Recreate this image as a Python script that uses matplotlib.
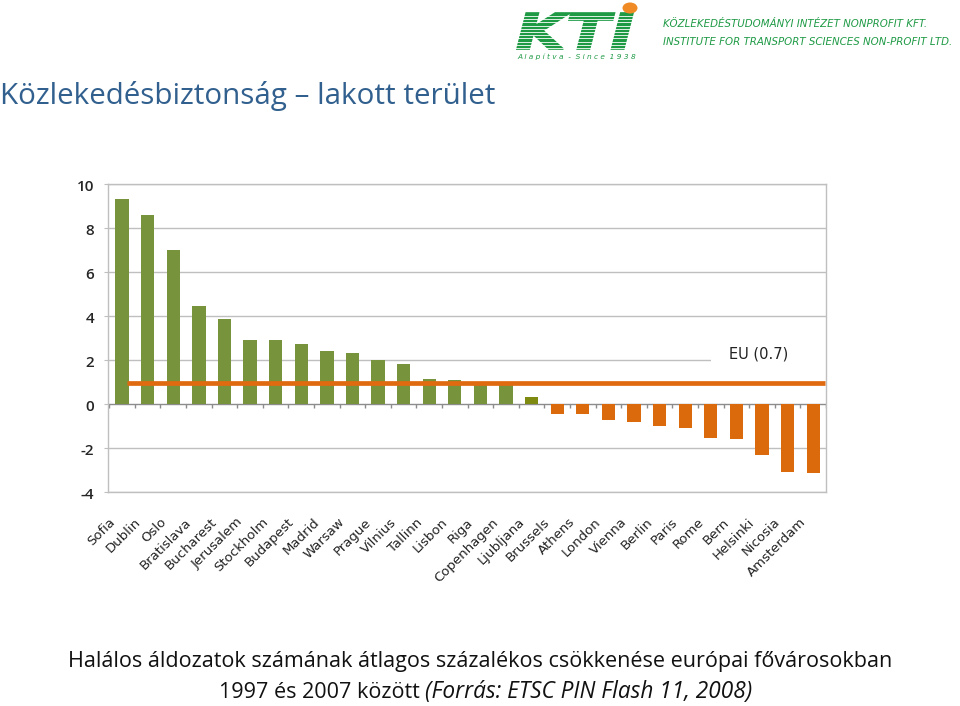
import matplotlib
matplotlib.use("Agg")
import matplotlib.pyplot as plt
import matplotlib.transforms as mtransforms
from matplotlib.patches import Rectangle, Circle, PathPatch
from matplotlib.textpath import TextPath
from matplotlib.font_manager import FontProperties
from matplotlib.lines import Line2D
import numpy as np

cities = ["Sofia", "Dublin", "Oslo", "Bratislava", "Bucharest", "Jerusalem",
          "Stockholm", "Budapest", "Madrid", "Warsaw", "Prague", "Vilnius",
          "Tallinn", "Lisbon", "Riga", "Copenhagen", "Ljubljana", "Brussels",
          "Athens", "London", "Vienna", "Berlin", "Paris", "Rome", "Bern",
          "Helsinki", "Nicosia", "Amsterdam"]
values = [9.3, 8.6, 7.0, 4.45, 3.85, 2.93, 2.93, 2.74, 2.4, 2.31, 2.01, 1.83,
          1.12, 1.08, 0.86, 0.86, 0.33, -0.46, -0.46, -0.71, -0.83, -1.0,
          -1.09, -1.55, -1.59, -2.32, -3.11, -3.15]
eu_value = 0.95
eu_label = "EU (0.7)"
yticks = [-4, -2, 0, 2, 4, 6, 8, 10]

GREEN = "#77933C"
OLIVE = "#7F8A10"
ORANGE = "#DA6A0C"

def bar_color(v):
    if v < 0:
        return ORANGE
    if v < 0.5:
        return OLIVE
    return GREEN

W, H = 960, 706
fig = plt.figure(figsize=(9.6, 7.06), dpi=100)
ax = fig.add_axes([108/W, 1-492/H, (826-108)/W, (492-184)/H])

x = np.arange(len(cities))
ax.bar(x, values, width=0.52, color=[bar_color(v) for v in values], zorder=3)

ax.set_xlim(-0.55, len(cities) - 0.5)
ax.set_ylim(-4, 10)
ax.set_yticks(yticks)
ax.set_yticklabels([str(t) for t in yticks], fontsize=11, color="#262626",
                   family="Open Sans", fontweight="semibold")
ax.tick_params(axis="y", length=3, color="#BFBFBF", pad=7)
for lab in ax.get_yticklabels():
    lab.set_transform(lab.get_transform() +
                      mtransforms.ScaledTranslation(0, -1/72, fig.dpi_scale_trans))
for t in yticks:
    if t != 0:
        ax.axhline(t, color="#BFBFBF", lw=1.0, zorder=1)
ax.axhline(0, color="#8C8C8C", lw=1.0, zorder=2)
# category boundary ticks on the zero line
ax.vlines(np.arange(len(cities) + 1) - 0.5, -0.18, 0, color="#8C8C8C", lw=1.0, zorder=2)

for s in ax.spines.values():
    s.set_color("#BFBFBF")
    s.set_linewidth(1.0)

ax.set_xticks(x)
ax.set_xticklabels(cities, rotation=45, ha="right", va="top",
                   rotation_mode="anchor", fontsize=9.5, color="#222222")
ax.tick_params(axis="x", length=0, pad=17)
offset = mtransforms.ScaledTranslation(-10/72, 0, fig.dpi_scale_trans)
for lab in ax.get_xticklabels():
    lab.set_transform(lab.get_transform() + offset)

# EU line
ax.hlines(eu_value, x[0] + 0.2, x[-1] + 0.45, color="#E06A10", lw=3.4, zorder=4)
# label with white box
ax.add_patch(Rectangle((0.84, 0.40), 0.16, 0.09, transform=ax.transAxes,
                       facecolor="white", edgecolor="none", zorder=2))
ax.text(0.906, 0.448, eu_label, transform=ax.transAxes, ha="center", va="center",
        fontsize=10.5, color="#222222", zorder=5)

# Title
fig.text(0.0, 1-96/H, "Közlekedésbiztonság – lakott terület", fontsize=21.3,
         color="#31608F", family="Open Sans", ha="left", va="center")

# Caption
fig.text(0.5, 1-662/H,
         "Halálos áldozatok számának átlagos százalékos csökkenése európai fővárosokban",
         fontsize=15.5, family="Open Sans", ha="center", va="center", color="#111111")
fig.text(425/W, 1-692/H, "1997 és 2007 között ", fontsize=15.5, family="Open Sans",
         ha="right", va="center", color="#111111")
fig.text(425/W, 1-692/H, "(Forrás: ETSC PIN Flash 11, 2008)", fontsize=16.3,
         family="Open Sans", style="italic", ha="left", va="center", color="#111111")

# Logo
KGREEN = "#1E9A45"
tp = TextPath((0, 0), "KTI", size=1,
              prop=FontProperties(family="DejaVu Sans", weight="bold", style="italic"))
bb = tp.get_extents()
tr = (mtransforms.Affine2D().translate(-bb.x0, -bb.y0)
      .scale(116/W/bb.width, 36/H/bb.height)
      .translate(517/W, 1-49/H)) + fig.transFigure
fig.patches.append(PathPatch(tp, facecolor=KGREEN, edgecolor=KGREEN, lw=1.2, transform=tr))
for yy in np.arange(16, 49, 3.2):
    fig.lines.append(Line2D([510/W, 640/W], [1-yy/H, 1-yy/H], transform=fig.transFigure,
                            color="white", lw=0.6))
fig.patches.append(Circle((630/W, 1-8/H), 7.5/W, transform=fig.transFigure,
                          facecolor="#F08A24", edgecolor="none"))
fig.text(517/W, 1-57/H, "A l a p í t v a  -  S i n c e  1 9 3 8", fontsize=5.3,
         style="italic", color=KGREEN, ha="left", va="center")
fig.text(663/W, 1-24/H, "KÖZLEKEDÉSTUDOMÁNYI INTÉZET NONPROFIT KFT.", fontsize=7.4,
         style="italic", color=KGREEN, ha="left", va="center")
fig.text(663/W, 1-42/H, "INSTITUTE FOR TRANSPORT SCIENCES NON-PROFIT LTD.", fontsize=7.4,
         style="italic", color=KGREEN, ha="left", va="center")

fig.savefig("out.png", dpi=100)
